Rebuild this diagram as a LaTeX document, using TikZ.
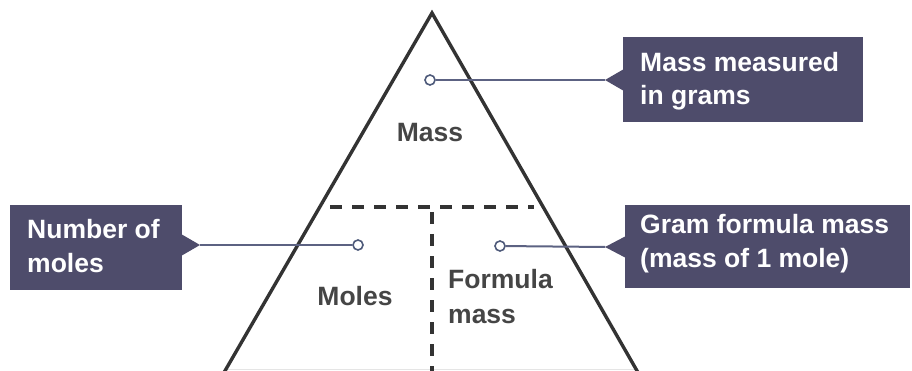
\documentclass[tikz,border=0pt]{standalone}
\usepackage{fontspec}
\setmainfont{Liberation Sans}
\definecolor{boxfill}{HTML}{4E4C6B}
\definecolor{conncol}{HTML}{5C6282}
\definecolor{dotcol}{HTML}{4E5A7A}
\definecolor{triline}{HTML}{333333}
\definecolor{lblcol}{HTML}{454545}
\begin{document}
\begin{tikzpicture}[x=1pt,y=-1pt,
  tri/.style={draw=triline, line width=3.4pt, line join=miter},
  dsh/.style={draw=triline, line width=3.4pt, dash pattern=on 12pt off 10pt},
  box/.style={fill=boxfill, draw=none, inner sep=0pt, anchor=north west},
  boxtxt/.style={text=white, font=\fontsize{26.5}{33}\selectfont\bfseries, align=left, inner sep=0pt, anchor=base west},
  lbl/.style={text=lblcol, font=\fontsize{26.5}{35}\selectfont\bfseries, align=left, inner sep=0pt},
  dot/.style={circle, draw=dotcol, fill=white, line width=1.6pt, minimum size=10pt, inner sep=0pt},
  conn/.style={draw=conncol, line width=2pt}]
\useasboundingbox (0,0) rectangle (912,371);
% triangle
\coordinate (apex) at (432,13);
\coordinate (bl) at (222,376);
\coordinate (br) at (640,376);
\draw[gray!20, line width=1pt] (225,369) -- (637,369);
\draw[tri] (bl) -- (apex) -- (br);
% dashed dividers
\coordinate (hl) at (330,207);
\coordinate (hr) at (534,207);
\coordinate (vt) at (432,212);
\coordinate (vb) at (432,375);
\draw[dsh] (hl) -- (hr);
\draw[dsh] (vt) -- (vb);
% labels inside triangle
\node[lbl, anchor=base] (mass) at (430,142) {Mass};
\node[lbl, anchor=base] (moles) at (355,305) {Moles};
\node[lbl, anchor=base west] (fmass) at (448,323) {Formula\\mass};
% callout boxes
\node[box, minimum width=240pt, minimum height=85pt] (mbox) at (623,37) {};
\node[box, minimum width=172pt, minimum height=85pt] (nbox) at (10,205) {};
\node[box, minimum width=285pt, minimum height=83pt] (gbox) at (625,205) {};
\coordinate (mtip) at (605,80);
\coordinate (ntip) at (200,245);
\coordinate (gtip) at (605,247);
\fill[boxfill] (624,69) -- (mtip) -- (624,91) -- cycle;
\fill[boxfill] (181,234) -- (ntip) -- (181,256) -- cycle;
\fill[boxfill] (626,236) -- (gtip) -- (626,258) -- cycle;
\node[boxtxt] (mtxt) at (640,105) {Mass measured\\in grams};
\node[boxtxt] (ntxt) at (27,272) {Number of\\moles};
\node[boxtxt] (gtxt) at (640,267) {Gram formula mass\\(mass of 1 mole)};
% dots and connectors
\node[dot] (mdot) at (430,80) {};
\node[dot] (ndot) at (358,245) {};
\node[dot] (gdot) at (500,246) {};
\draw[conn] (mdot) -- (mtip);
\draw[conn] (ndot) -- (ntip);
\draw[conn] (gdot) -- (gtip);
\end{tikzpicture}
\end{document}
